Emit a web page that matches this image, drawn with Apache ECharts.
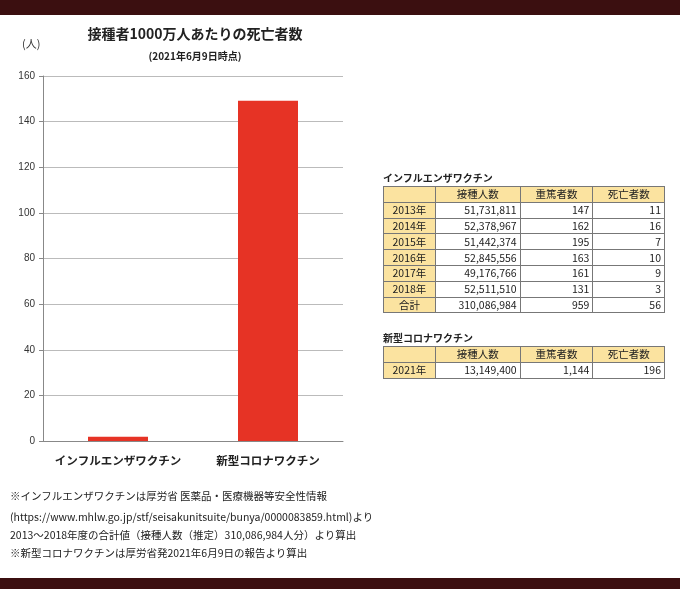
<!DOCTYPE html>
<html><head><meta charset="utf-8">
<script src="https://cdn.jsdelivr.net/npm/echarts@6/dist/echarts.min.js"></script>
<style>
body{margin:0;width:680px;height:589px;position:relative;background:#fff;font-family:"Noto Sans CJK JP",sans-serif;overflow:hidden}
.bar{position:absolute;left:0;width:680px;background:#3b0f10}
#c{position:absolute;left:0;top:0;width:680px;height:589px}
table{position:absolute;border-collapse:collapse;font-size:10.5px;color:#222;font-family:"Noto Sans CJK JP",sans-serif}
td{border:1px solid #777;padding:0 3px;text-align:right;line-height:14px;height:14.8px}
td.h{background:#fbe3a0;text-align:center}
.tt{position:absolute;font-size:10px;font-weight:bold;color:#222}
.note{position:absolute;left:10px;font-size:10.5px;color:#222;white-space:nowrap}
</style></head><body>
<div class="bar" style="top:0;height:15px"></div>
<div class="bar" style="top:578px;height:11px"></div>
<div id="c"></div>
<div class="tt" style="left:383px;top:170px">インフルエンザワクチン</div>
<table id="t1" style="left:383px;top:186px;width:282px"></table>
<div class="tt" style="left:383px;top:330px">新型コロナワクチン</div>
<table id="t2" style="left:383px;top:346px;width:282px"></table>
<div class="note" style="top:488px">※インフルエンザワクチンは厚労省 医薬品・医療機器等安全性情報</div>
<div class="note" style="top:509px">(https://www.mhlw.go.jp/stf/seisakunitsuite/bunya/0000083859.html)より</div>
<div class="note" style="top:527px">2013～2018年度の合計値（接種人数（推定）310,086,984人分）より算出</div>
<div class="note" style="top:545px">※新型コロナワクチンは厚労省発2021年6月9日の報告より算出</div>
<script>
const categories=["インフルエンザワクチン","新型コロナワクチン"];
const deathsPer10M=[1.81,149.1];
const yTicks=[0,20,40,60,80,100,120,140,160];
const tableHead=["","接種人数","重篤者数","死亡者数"];
const fluRows=[["2013年","51,731,811","147","11"],["2014年","52,378,967","162","16"],["2015年","51,442,374","195","7"],["2016年","52,845,556","163","10"],["2017年","49,176,766","161","9"],["2018年","52,511,510","131","3"],["合計","310,086,984","959","56"]];
const covidRows=[["2021年","13,149,400","1,144","196"]];
function build(id,rows){
  const w=[52,85,73,72];
  let h='<tr>'+tableHead.map((t,i)=>`<td class="h" style="width:${w[i]-7}px">${t}</td>`).join('')+'</tr>';
  rows.forEach(r=>{h+='<tr>'+r.map((t,i)=>`<td${i==0?' class="h"':''}>${t}</td>`).join('')+'</tr>';});
  document.getElementById(id).innerHTML=h;
}
build('t1',fluRows);build('t2',covidRows);
const ch=echarts.init(document.getElementById('c'));
ch.setOption({
  animation:false,
  title:{text:'接種者1000万人あたりの死亡者数',subtext:'(2021年6月9日時点)',left:190,textAlign:'center',top:22,itemGap:10,
    textStyle:{fontSize:14,fontWeight:'bold',color:'#222',fontFamily:'Noto Sans CJK JP'},
    subtextStyle:{fontSize:10,fontWeight:'bold',color:'#222',fontFamily:'Noto Sans CJK JP'}},
  graphic:[{type:'text',left:22,top:38,style:{text:'(人)',fontSize:11,fill:'#333',fontFamily:'Noto Sans CJK JP'}}],
  grid:{left:43,top:76,width:300,height:365},
  xAxis:{type:'category',data:categories,axisTick:{show:false},axisLine:{lineStyle:{color:'#888'}},
    axisLabel:{interval:0,fontSize:11.5,fontWeight:'bold',color:'#222',margin:14,fontFamily:'Noto Sans CJK JP'}},
  yAxis:{type:'value',min:0,max:160,interval:20,axisLine:{show:true,lineStyle:{color:'#888'}},axisTick:{show:true,inside:false,length:4},
    axisLabel:{fontSize:10,color:'#333'},splitLine:{lineStyle:{color:'#bbb'}}},
  series:[{type:'bar',data:deathsPer10M,barWidth:60,itemStyle:{color:'#e63325'}}]
});
</script></body></html>
